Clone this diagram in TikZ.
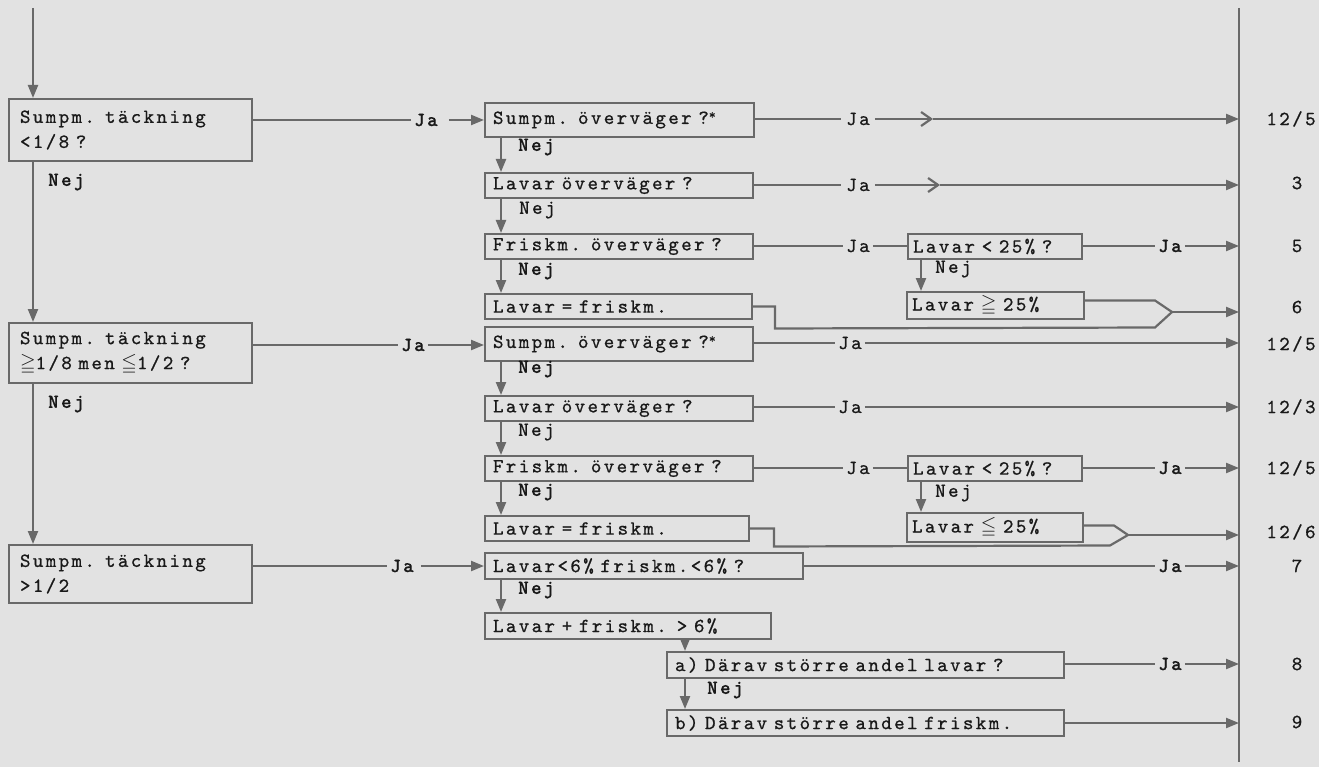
\documentclass[tikz,border=0pt]{standalone}
\usepackage{amssymb}
\usepackage{fontspec}
\newfontfamily\tw{lmmono10-regular.otf}[LetterSpace=12,WordSpace=1.3,FakeBold=0.8]
\newfontfamily\twb{lmmonolt10-bold.otf}[LetterSpace=12,WordSpace=1.3,FakeBold=0.6]
\usetikzlibrary{arrows.meta}
\definecolor{paper}{RGB}{226,226,226}
\definecolor{ink}{RGB}{25,25,25}
\definecolor{linegray}{RGB}{105,105,105}
\begin{document}
\begin{tikzpicture}[x=1pt,y=-1pt,
  every node/.style={font=\fontsize{20}{25}\selectfont\tw, text=ink},
  box/.style={draw=linegray, line width=2pt, anchor=north west, align=left, inner xsep=8pt, inner ysep=0pt},
  lbl/.style={fill=paper, inner sep=3pt},
  bl/.style={lbl, font=\fontsize{20}{25}\selectfont\twb},
  nej/.style={anchor=west, inner sep=0pt},
  bnej/.style={nej, font=\fontsize{20}{25}\selectfont\twb},
  num/.style={inner sep=0pt},
  conn/.style={draw=linegray, line width=2.2pt},
  arr/.style={conn, -{Triangle[length=13pt,width=10pt]}},
  chev/.style={conn, -{Straight Barb[length=10pt,width=14pt]}}
]
\fill[paper] (0,0) rectangle (1319,767);
\useasboundingbox (0,0) rectangle (1319,767);

% helper coordinates
\coordinate (top) at (33,8);
\coordinate (lx) at (33,0);
\coordinate (mx) at (501,0);
\coordinate (ax) at (685,0);
\coordinate (rx) at (921,0);
\coordinate (barT) at (1239,8);
\coordinate (barB) at (1239,762);

% left column
\node[box, inner xsep=11pt, text width=221pt, minimum height=62pt] (L1) at (8,98) {Sumpm. täckning\\<1/8 ?};
\node[box, inner xsep=11pt, text width=221pt, minimum height=60pt] (L2) at (8,322) {Sumpm. täckning\\$\geqq$1/8 men $\leqq$1/2 ?};
\node[box, inner xsep=11pt, text width=221pt, minimum height=58pt] (L3) at (8,544) {Sumpm. täckning\\>1/2};
\node[bnej] (nl1) at (48,182) {Nej};
\node[bnej] (nl2) at (48,404) {Nej};

% middle column, group 1
\node[box, text width=253pt, minimum height=34pt] (B1a) at (484,102) {Sumpm. överväger ?\raisebox{5pt}{\fontsize{13}{13}\selectfont*}};
\node[box, text width=252pt, minimum height=25pt] (B1b) at (484,172) {Lavar överväger ?};
\node[box, text width=252pt, minimum height=25pt] (B1c) at (484,233) {Friskm. överväger ?};
\node[box, text width=251pt, minimum height=25pt] (B1d) at (484,293) {Lavar = friskm.};
\node[bnej] (n1a) at (518,147) {Nej};
\node[nej] (n1b) at (519,210) {Nej};
\node[bnej] (n1c) at (518,271) {Nej};

% middle column, group 2
\node[box, text width=252pt, minimum height=34pt] (B2a) at (484,326) {Sumpm. överväger ?\raisebox{5pt}{\fontsize{13}{13}\selectfont*}};
\node[box, text width=252pt, minimum height=25pt] (B2b) at (484,395) {Lavar överväger ?};
\node[box, text width=252pt, minimum height=25pt] (B2c) at (484,455) {Friskm. överväger ?};
\node[box, text width=248pt, minimum height=25pt] (B2d) at (484,515) {Lavar = friskm.};
\node[bnej] (n2a) at (518,369) {Nej};
\node[nej] (n2b) at (518,432) {Nej};
\node[bnej] (n2c) at (518,492) {Nej};

% middle column, group 3
\node[box, text width=302pt, minimum height=26pt] (B3a) at (484,552) {Lavar<6\% friskm.<6\% ?};
\node[box, text width=270pt, minimum height=26pt] (B3b) at (484,612) {Lavar + friskm. > 6\%};
\node[bnej] (n3a) at (518,590) {Nej};
\node[box, text width=381pt, minimum height=26pt] (Ba) at (666,651) {a) Därav större andel lavar ?};
\node[box, text width=381pt, minimum height=26pt] (Bb) at (666,709) {b) Därav större andel friskm.};
\node[bnej] (nba) at (707,690) {Nej};

% right boxes
\node[box, inner xsep=5pt, text width=164pt, minimum height=25pt] (R1) at (907,233) {Lavar < 25\% ?};
\node[box, inner xsep=5pt, text width=167pt, minimum height=27pt] (R1b) at (906,291) {Lavar $\geqq$ 25\%};
\node[box, inner xsep=5pt, text width=164pt, minimum height=25pt] (R2) at (907,455) {Lavar < 25\% ?};
\node[box, inner xsep=5pt, text width=166pt, minimum height=29pt] (R2b) at (906,512) {Lavar $\leqq$ 25\%};
\node[nej] (nr1) at (935,269) {Nej};
\node[nej] (nr2) at (935,493) {Nej};

% Ja labels
\node[bl] (jl1) at (426,120) {Ja};
\node[bl] (jl2) at (413,345) {Ja};
\node[bl] (jl3) at (402,566) {Ja};
\node[lbl, inner xsep=5pt] (jm1) at (858,119) {Ja};
\node[lbl, inner xsep=5pt] (jm2) at (858,185) {Ja};
\node[lbl] (jm3) at (858,246) {Ja};
\node[lbl] (jm4) at (850,343) {Ja};
\node[lbl] (jm5) at (850,407) {Ja};
\node[lbl] (jm6) at (858,468) {Ja};
\node[bl] (jr1) at (1170,246) {Ja};
\node[bl] (jr2) at (1170,468) {Ja};
\node[bl] (j7) at (1170,566) {Ja};
\node[bl] (j8) at (1170,664) {Ja};

% numbers
\node[num] (o1) at (1291,119) {12/5};
\node[num] (o2) at (1297,183) {3};
\node[num] (o3) at (1297,246) {5};
\node[num] (o4) at (1297,307) {6};
\node[num] (o5) at (1291,344) {12/5};
\node[num] (o6) at (1291,407) {12/3};
\node[num] (o7) at (1291,468) {12/5};
\node[num] (o8) at (1291,532) {12/6};
\node[num] (o9) at (1297,566) {7};
\node[num] (o10) at (1297,664) {8};
\node[num] (o11) at (1297,722) {9};

% vertical bar
\draw[conn] (barT) -- (barB);

% left column arrows
\draw[arr] (top) -- (top |- L1.north);
\draw[arr] (L1.south -| lx) -- (L2.north -| lx);
\draw[arr] (L2.south -| lx) -- (L3.north -| lx);

% left to middle
\draw[conn] (L1.east |- jl1) -- (jl1.west);
\draw[arr, shorten <=8pt] (jl1.east) -- (B1a.west |- jl1);
\draw[conn] (L2.east |- jl2) -- (jl2.west);
\draw[arr] (jl2.east) -- (B2a.west |- jl2);
\draw[conn] (L3.east |- jl3) -- (jl3.west);
\draw[arr, shorten <=4pt] (jl3.east) -- (B3a.west |- jl3);

% middle vertical arrows
\draw[arr] (B1a.south -| mx) -- (B1b.north -| mx);
\draw[arr] (B1b.south -| mx) -- (B1c.north -| mx);
\draw[arr] (B1c.south -| mx) -- (B1d.north -| mx);
\draw[arr] (B2a.south -| mx) -- (B2b.north -| mx);
\draw[arr] (B2b.south -| mx) -- (B2c.north -| mx);
\draw[arr] (B2c.south -| mx) -- (B2d.north -| mx);
\draw[arr] (B3a.south -| mx) -- (B3b.north -| mx);
\draw[arr] (B3b.south -| ax) -- (Ba.north -| ax);
\draw[arr] (Ba.south -| ax) -- (Bb.north -| ax);
\draw[arr] (R1.south -| rx) -- (R1b.north -| rx);
\draw[arr] (R2.south -| rx) -- (R2b.north -| rx);

% group 1 outputs
\coordinate (c1) at (933,119);
\coordinate (c2) at (940,185);
\draw[conn] (B1a.east |- jm1) -- (jm1.west);
\draw[chev] (jm1.east) -- (c1);
\draw[arr] (c1) -- (c1 -| barT);
\draw[conn] (B1b.east |- jm2) -- (jm2.west);
\draw[chev] (jm2.east) -- (c2);
\draw[arr] (c2) -- (c2 -| barT);
\draw[conn] (B1c.east |- jm3) -- (jm3.west);
\draw[conn] (jm3.east) -- (R1.west |- jm3);
\draw[conn] (R1.east |- jr1) -- (jr1.west);
\draw[arr] (jr1.east) -- (jr1 -| barT);
\coordinate (m1) at (1172,312);
\draw[conn] ([yshift=5pt]R1b.east) -- ++(70,0) -- (m1);
\draw[conn] (B1d.east) -- ++(22,0) -- ++(0,22) -- (1155,327.5) -- (m1);
\draw[arr] (m1) -- (m1 -| barT);

% group 2 outputs
\draw[conn] (B2a.east |- jm4) -- (jm4.west);
\draw[arr] (jm4.east) -- (jm4 -| barT);
\draw[conn] (B2b.east |- jm5) -- (jm5.west);
\draw[arr] (jm5.east) -- (jm5 -| barT);
\draw[conn] (B2c.east |- jm6) -- (jm6.west);
\draw[conn] (jm6.east) -- (R2.west |- jm6);
\draw[conn] (R2.east |- jr2) -- (jr2.west);
\draw[arr] (jr2.east) -- (jr2 -| barT);
\coordinate (m2) at (1128,535);
\draw[conn] ([yshift=2pt]R2b.east) -- ++(30,0) -- (m2);
\draw[conn] (B2d.east) -- ++(24,0) -- ++(0,18) -- (1110,545.5) -- (m2);
\draw[arr] (m2) -- (m2 -| barT);

% group 3 outputs
\draw[conn] (B3a.east |- j7) -- (j7.west);
\draw[arr] (j7.east) -- (j7 -| barT);
\draw[conn] (Ba.east |- j8) -- (j8.west);
\draw[arr] (j8.east) -- (j8 -| barT);
\draw[arr] (Bb.east) -- (Bb.east -| barT);
\end{tikzpicture}
\end{document}
